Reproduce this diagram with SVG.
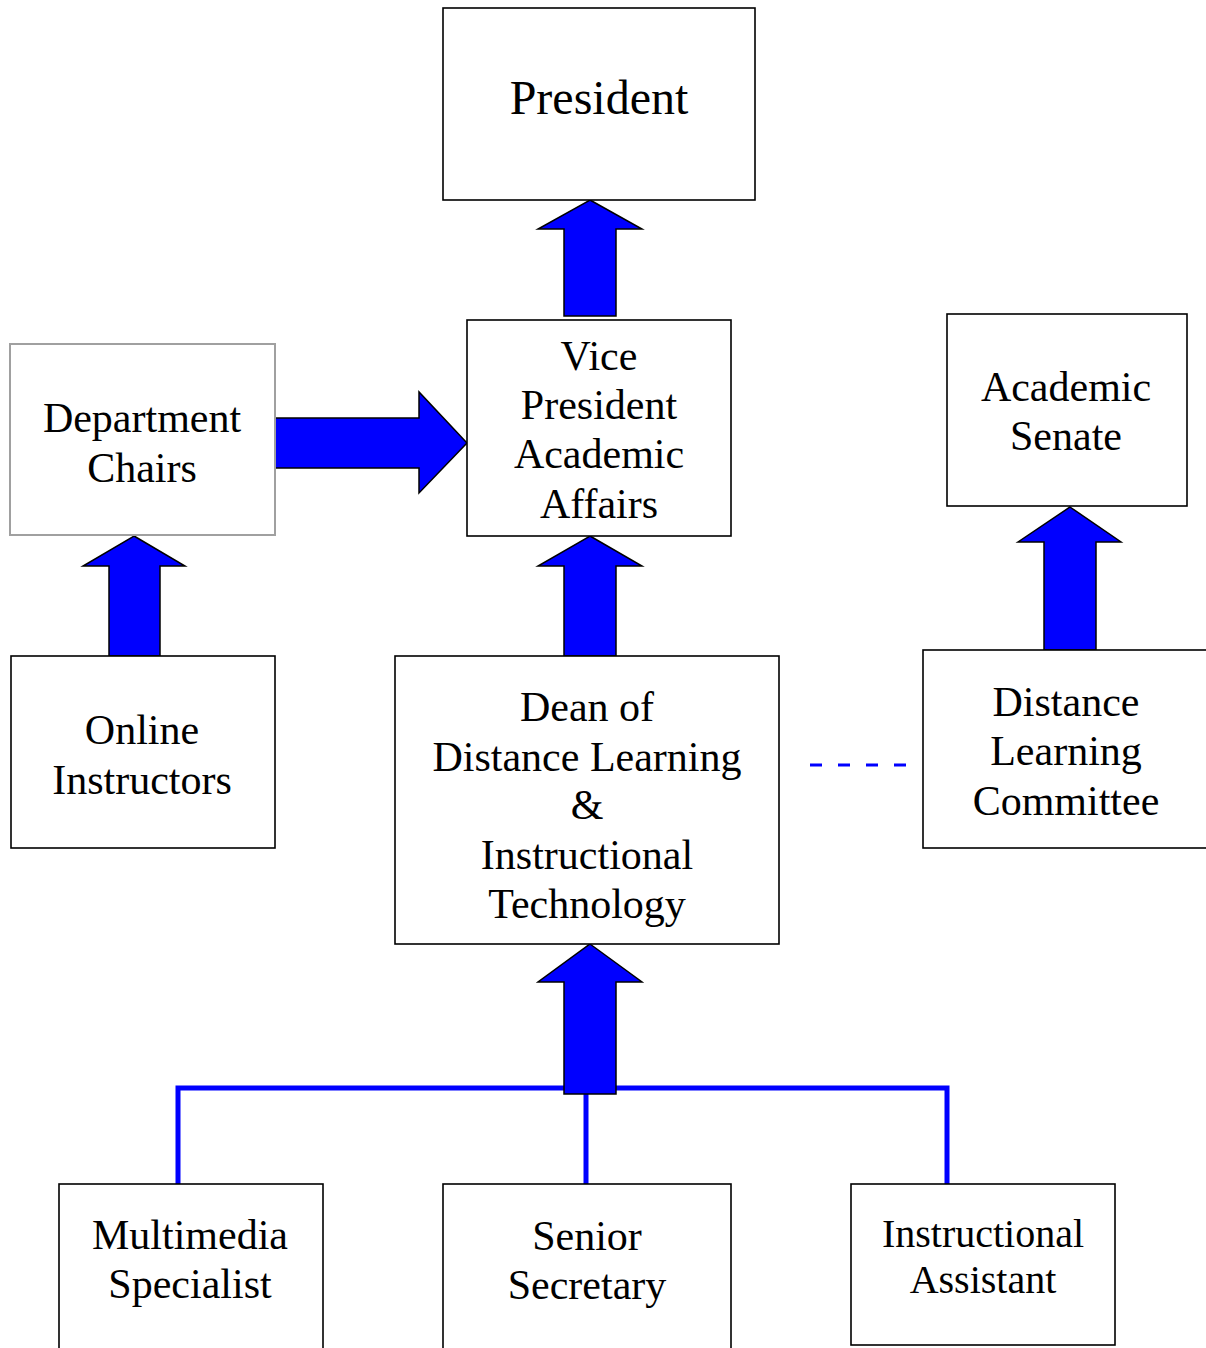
<svg xmlns="http://www.w3.org/2000/svg" width="1206" height="1348" viewBox="0 0 1206 1348">
<style>
.box{fill:#fff;stroke:#000;stroke-width:1.6}
.gbox{fill:#fff;stroke:#a0a0a0;stroke-width:2}
.t{font-family:"Liberation Serif","Times New Roman",serif;font-size:42px;fill:#000;text-anchor:middle}
.arr{fill:#0000ff;stroke:#000;stroke-width:1.5;stroke-linejoin:miter}
.ln{stroke:#0000ff;stroke-width:5;fill:none}
.dash{stroke:#0000ff;stroke-width:3;stroke-dasharray:12 16;fill:none}
</style>
<rect width="1206" height="1348" fill="#fff"/>
<g id="connectors">
<path class="ln" d="M178,1184 V1088 H947 V1184"/>
<path class="ln" d="M586,1094 V1184"/>
<path class="arr" d="M590,200 L642,229 L616,229 L616,316 L564,316 L564,229 L538,229 Z"/>
<path class="arr" d="M467,443 L419,392 L419,418 L274,418 L274,468 L419,468 L419,493 Z"/>
<path class="arr" d="M134,536 L185,566 L160,566 L160,656 L109,656 L109,566 L83,566 Z"/>
<path class="arr" d="M590,536 L642,566 L616,566 L616,656 L564,656 L564,566 L538,566 Z"/>
<path class="arr" d="M590,944 L642,982 L616,982 L616,1094 L564,1094 L564,982 L538,982 Z"/>
<path class="arr" d="M1070,507 L1121,542 L1096,542 L1096,650 L1044,650 L1044,542 L1018,542 Z"/>
<path class="dash" d="M810,765 H910"/>
</g>
<g id="president">
<rect class="box" x="443" y="8" width="312" height="192"/>
<text class="t" x="599" y="114" style="font-size:48px">President</text>
</g>
<g id="vp">
<rect class="box" x="467" y="320" width="264" height="216"/>
<text class="t" x="599" y="370">Vice</text>
<text class="t" x="599" y="419">President</text>
<text class="t" x="599" y="468">Academic</text>
<text class="t" x="599" y="518">Affairs</text>
</g>
<g id="dept">
<rect class="gbox" x="10" y="344" width="265" height="191"/>
<text class="t" x="142" y="432">Department</text>
<text class="t" x="142" y="482">Chairs</text>
</g>
<g id="senate">
<rect class="box" x="947" y="314" width="240" height="192"/>
<text class="t" x="1066" y="401">Academic</text>
<text class="t" x="1066" y="450">Senate</text>
</g>
<g id="online">
<rect class="box" x="11" y="656" width="264" height="192"/>
<text class="t" x="142" y="744">Online</text>
<text class="t" x="142" y="794">Instructors</text>
</g>
<g id="dean">
<rect class="box" x="395" y="656" width="384" height="288"/>
<text class="t" x="587" y="721">Dean of</text>
<text class="t" x="587" y="771">Distance Learning</text>
<text class="t" x="587" y="819">&amp;</text>
<text class="t" x="587" y="869">Instructional</text>
<text class="t" x="587" y="918">Technology</text>
</g>
<g id="committee">
<rect class="box" x="923" y="650" width="290" height="198"/>
<text class="t" x="1066" y="716">Distance</text>
<text class="t" x="1066" y="765">Learning</text>
<text class="t" x="1066" y="815">Committee</text>
</g>
<g id="multimedia">
<rect class="box" x="59" y="1184" width="264" height="180"/>
<text class="t" x="190" y="1249">Multimedia</text>
<text class="t" x="190" y="1298">Specialist</text>
</g>
<g id="secretary">
<rect class="box" x="443" y="1184" width="288" height="180"/>
<text class="t" x="587" y="1250">Senior</text>
<text class="t" x="587" y="1299">Secretary</text>
</g>
<g id="assistant">
<rect class="box" x="851" y="1184" width="264" height="161"/>
<text class="t" x="983" y="1247" style="font-size:40px">Instructional</text>
<text class="t" x="983" y="1293" style="font-size:40px">Assistant</text>
</g>
</svg>
